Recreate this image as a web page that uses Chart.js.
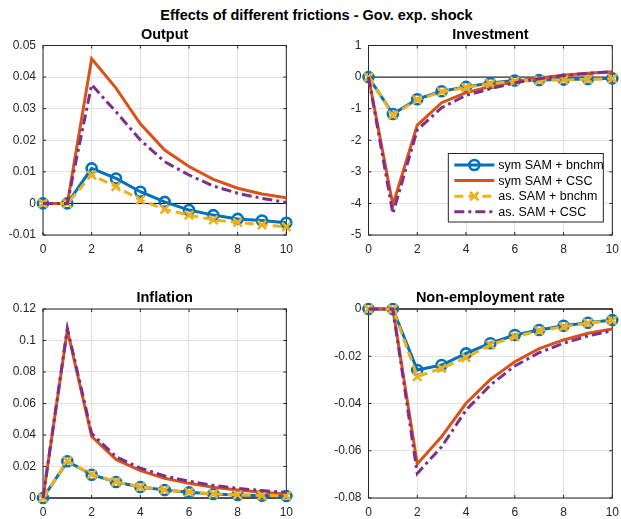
<!DOCTYPE html>
<html>
<head>
<meta charset="utf-8">
<script src="https://cdn.jsdelivr.net/npm/chart.js@4/dist/chart.umd.min.js"></script>
<style>
html, body { margin: 0; padding: 0; background: #fff; overflow: hidden; width: 621px; height: 519px; }
#title { position: absolute; left: 6px; width: 621px; top: 7px; text-align: center;
         font: bold 14.5px "Liberation Sans", Arial, sans-serif; color: #000; }
canvas { position: absolute; }
</style>
</head>
<body>
<div id="title">Effects of different frictions - Gov. exp. shock</div>
<canvas id="output" width="300" height="232" style="left:0;top:25px"></canvas>
<canvas id="investment" width="301" height="232" style="left:325px;top:25px"></canvas>
<canvas id="inflation" width="300" height="232" style="left:0;top:288px"></canvas>
<canvas id="nonemp" width="301" height="232" style="left:325px;top:288px"></canvas>
<script>
// periods after the shock
const periods = [0, 1, 2, 3, 4, 5, 6, 7, 8, 9, 10];
const xTicks = [0, 2, 4, 6, 8, 10];
const seriesNames = ['sym SAM + bnchm', 'sym SAM + CSC', 'as. SAM + bnchm', 'as. SAM + CSC'];

// Output
const outSymBnchm = [0, 0, 0.0111, 0.0079, 0.0037, 0.0005, -0.0021, -0.0037, -0.0049, -0.0054, -0.0061];
const outSymCsc   = [0, 0, 0.0458, 0.0365, 0.0252, 0.0169, 0.0117, 0.0076, 0.0048, 0.0030, 0.0018];
const outAsBnchm  = [0, 0, 0.0090, 0.0053, 0.0011, -0.0019, -0.0037, -0.0052, -0.0060, -0.0068, -0.0074];
const outAsCsc    = [0, 0, 0.0376, 0.0290, 0.0201, 0.0132, 0.0090, 0.0055, 0.0032, 0.0016, 0.0003];
const outTicks  = [-0.01, 0, 0.01, 0.02, 0.03, 0.04, 0.05];
const outLabels = ['-0.01', '0', '0.01', '0.02', '0.03', '0.04', '0.05'];

// Investment
const invSymBnchm = [0, -1.17, -0.70, -0.45, -0.31, -0.19, -0.11, -0.09, -0.08, -0.06, -0.04];
const invSymCsc   = [0, -4.05, -1.52, -0.81, -0.49, -0.30, -0.15, -0.03, 0.06, 0.12, 0.17];
const invAsBnchm  = [0, -1.20, -0.72, -0.47, -0.33, -0.21, -0.13, -0.10, -0.09, -0.07, -0.05];
const invAsCsc    = [0, -4.32, -1.67, -0.97, -0.58, -0.37, -0.18, -0.05, 0.05, 0.12, 0.17];
const invTicks  = [-5, -4, -3, -2, -1, 0, 1];
const invLabels = ['-5', '-4', '-3', '-2', '-1', '0', '1'];

// Inflation
const infSymBnchm = [0, 0.0233, 0.0148, 0.0102, 0.0070, 0.0051, 0.0036, 0.0025, 0.0019, 0.0015, 0.0013];
const infSymCsc   = [0, 0.1067, 0.0390, 0.0245, 0.0174, 0.0125, 0.0093, 0.0068, 0.0051, 0.0036, 0.0025];
const infAsBnchm  = [0, 0.0235, 0.0150, 0.0103, 0.0071, 0.0052, 0.0037, 0.0026, 0.0020, 0.0016, 0.0014];
const infAsCsc    = [0, 0.1077, 0.0410, 0.0262, 0.0190, 0.0140, 0.0106, 0.0080, 0.0061, 0.0047, 0.0036];
const infTicks  = [0, 0.02, 0.04, 0.06, 0.08, 0.1, 0.12];
const infLabels = ['0', '0.02', '0.04', '0.06', '0.08', '0.1', '0.12'];

// Non-employment rate
const nerSymBnchm = [0, 0, -0.0258, -0.0237, -0.0188, -0.0145, -0.0110, -0.0089, -0.0071, -0.0058, -0.0047];
const nerSymCsc   = [0, 0, -0.0656, -0.0540, -0.0399, -0.0298, -0.0223, -0.0168, -0.0131, -0.0103, -0.0085];
const nerAsBnchm  = [0, 0, -0.0286, -0.0251, -0.0206, -0.0152, -0.0117, -0.0092, -0.0075, -0.0060, -0.0049];
const nerAsCsc    = [0, 0, -0.0696, -0.0583, -0.0428, -0.0322, -0.0241, -0.0185, -0.0145, -0.0114, -0.0092];
const nerTicks  = [-0.08, -0.06, -0.04, -0.02, 0];
const nerLabels = ['-0.08', '-0.06', '-0.04', '-0.02', '0'];

const FONT = '"Liberation Sans", Arial, sans-serif';
const AXIS_COLOR = '#262626';

// MATLAB-like line styles for the four series
const styles = [
    { borderColor: '#0072BD', borderDash: [], pointStyle: 'circle', pointRadius: 5, order: 3 },
    { borderColor: '#D95319', borderDash: [], pointStyle: 'circle', pointRadius: 0, order: 2 },
    { borderColor: '#EDB120', borderDash: [9, 5], pointStyle: 'crossRot', pointRadius: 6, order: 1 },
    { borderColor: '#7E2F8E', borderDash: [10, 4, 3, 4], pointStyle: 'circle', pointRadius: 0, order: 0 }
];

function toPoints(values) {
    return periods.map((p, i) => ({ x: p, y: values[i] }));
}

function makeDatasets(series) {
    return series.map((values, i) => ({
        label: seriesNames[i],
        data: toPoints(values),
        borderColor: styles[i].borderColor,
        borderWidth: 3,
        borderDash: styles[i].borderDash,
        pointStyle: styles[i].pointStyle,
        pointRadius: styles[i].pointRadius,
        pointBorderColor: styles[i].borderColor,
        pointBackgroundColor: 'rgba(0,0,0,0)',
        pointBorderWidth: 2.6,
        order: styles[i].order,
        tension: 0,
        fill: false,
        clip: false
    }));
}

// frame, zero line, inward ticks, panel title and legend
const framePlugin = {
    id: 'frame',
    beforeDatasetsDraw(chart) {
        const { ctx, chartArea: a, scales: { x, y } } = chart;
        ctx.save();
        const zy = y.getPixelForValue(0);
        ctx.strokeStyle = '#000';
        ctx.lineWidth = 1;
        ctx.beginPath();
        ctx.moveTo(a.left, zy);
        ctx.lineTo(a.right, zy);
        ctx.stroke();
        ctx.strokeStyle = AXIS_COLOR;
        ctx.strokeRect(a.left, a.top, a.right - a.left, a.bottom - a.top);
        ctx.beginPath();
        x.ticks.forEach(t => {
            const px = x.getPixelForValue(t.value);
            ctx.moveTo(px, a.bottom); ctx.lineTo(px, a.bottom - 3);
            ctx.moveTo(px, a.top); ctx.lineTo(px, a.top + 3);
        });
        y.ticks.forEach(t => {
            const py = y.getPixelForValue(t.value);
            ctx.moveTo(a.left, py); ctx.lineTo(a.left + 3, py);
            ctx.moveTo(a.right, py); ctx.lineTo(a.right - 3, py);
        });
        ctx.stroke();
        ctx.restore();
    },
    afterDraw(chart, args, opts) {
        const { ctx, chartArea: a } = chart;
        ctx.save();
        ctx.fillStyle = '#000';
        ctx.font = 'bold 14.5px ' + FONT;
        ctx.textAlign = 'center';
        ctx.textBaseline = 'alphabetic';
        ctx.fillText(opts.title, (a.left + a.right) / 2, a.top - 7);
        if (opts.legend) {
            const w = 155, h = 68.5;
            const left = a.right - 9 - w, top = a.bottom - 13 - h;
            ctx.fillStyle = '#fff';
            ctx.fillRect(left, top, w, h);
            ctx.strokeStyle = AXIS_COLOR;
            ctx.lineWidth = 1;
            ctx.strokeRect(left, top, w, h);
            ctx.font = '12.5px ' + FONT;
            ctx.textAlign = 'left';
            ctx.textBaseline = 'middle';
            chart.data.datasets.forEach((ds, i) => {
                const cy = top + 11.5 + i * 15.6;
                ctx.strokeStyle = ds.borderColor;
                ctx.lineWidth = ds.borderWidth;
                ctx.setLineDash(ds.borderDash);
                ctx.beginPath();
                ctx.moveTo(left + 6, cy);
                ctx.lineTo(left + 46, cy);
                ctx.stroke();
                ctx.setLineDash([]);
                if (ds.pointRadius > 0) {
                    ctx.lineWidth = ds.pointBorderWidth;
                    ctx.fillStyle = 'rgba(0,0,0,0)';
                    Chart.helpers.drawPoint(ctx, { pointStyle: ds.pointStyle, radius: ds.pointRadius, rotation: 0, borderWidth: ds.pointBorderWidth }, left + 26, cy);
                }
                ctx.fillStyle = '#000';
                ctx.fillText(ds.label, left + 50, cy + 0.5);
            });
        }
        ctx.restore();
    }
};

function makeChart(id, title, series, yTicks, yLabels, pad, yWidth, legend) {
    const ctx = document.getElementById(id).getContext('2d');
    return new Chart(ctx, {
        type: 'line',
        data: { datasets: makeDatasets(series) },
        options: {
            responsive: false,
            animation: false,
            events: [],
            layout: { padding: { top: pad.top, right: pad.right, left: 0, bottom: 0 } },
            plugins: {
                legend: { display: false },
                tooltip: { enabled: false },
                frame: { title: title, legend: legend }
            },
            scales: {
                x: {
                    type: 'linear',
                    min: 0,
                    max: 10,
                    afterBuildTicks: s => { s.ticks = xTicks.map(v => ({ value: v })); },
                    afterFit: s => { s.height = 22; },
                    ticks: { padding: 7, font: { family: FONT, size: 12 }, color: AXIS_COLOR, maxRotation: 0,
                             autoSkip: false, callback: v => String(v) },
                    grid: { color: '#e2e2e2', lineWidth: 1, drawTicks: false },
                    border: { display: false }
                },
                y: {
                    min: yTicks[0],
                    max: yTicks[yTicks.length - 1],
                    afterBuildTicks: s => { s.ticks = yTicks.map(v => ({ value: v })); },
                    afterFit: s => { s.width = yWidth; },
                    ticks: { padding: 7, font: { family: FONT, size: 12 }, color: AXIS_COLOR,
                             autoSkip: false, callback: (v, i) => yLabels[i] },
                    grid: { color: '#e2e2e2', lineWidth: 1, drawTicks: false },
                    border: { display: false }
                }
            }
        },
        plugins: [framePlugin]
    });
}

makeChart('output', 'Output', [outSymBnchm, outSymCsc, outAsBnchm, outAsCsc],
    outTicks, outLabels, { top: 20.5, right: 10 }, 43, false);
makeChart('investment', 'Investment', [invSymBnchm, invSymCsc, invAsBnchm, invAsCsc],
    invTicks, invLabels, { top: 20.5, right: 10.5 }, 43.5, true);
makeChart('inflation', 'Inflation', [infSymBnchm, infSymCsc, infAsBnchm, infAsCsc],
    infTicks, infLabels, { top: 21, right: 10 }, 43, false);
makeChart('nonemp', 'Non-employment rate', [nerSymBnchm, nerSymCsc, nerAsBnchm, nerAsCsc],
    nerTicks, nerLabels, { top: 21, right: 10.5 }, 43.5, false);
</script>
</body>
</html>
